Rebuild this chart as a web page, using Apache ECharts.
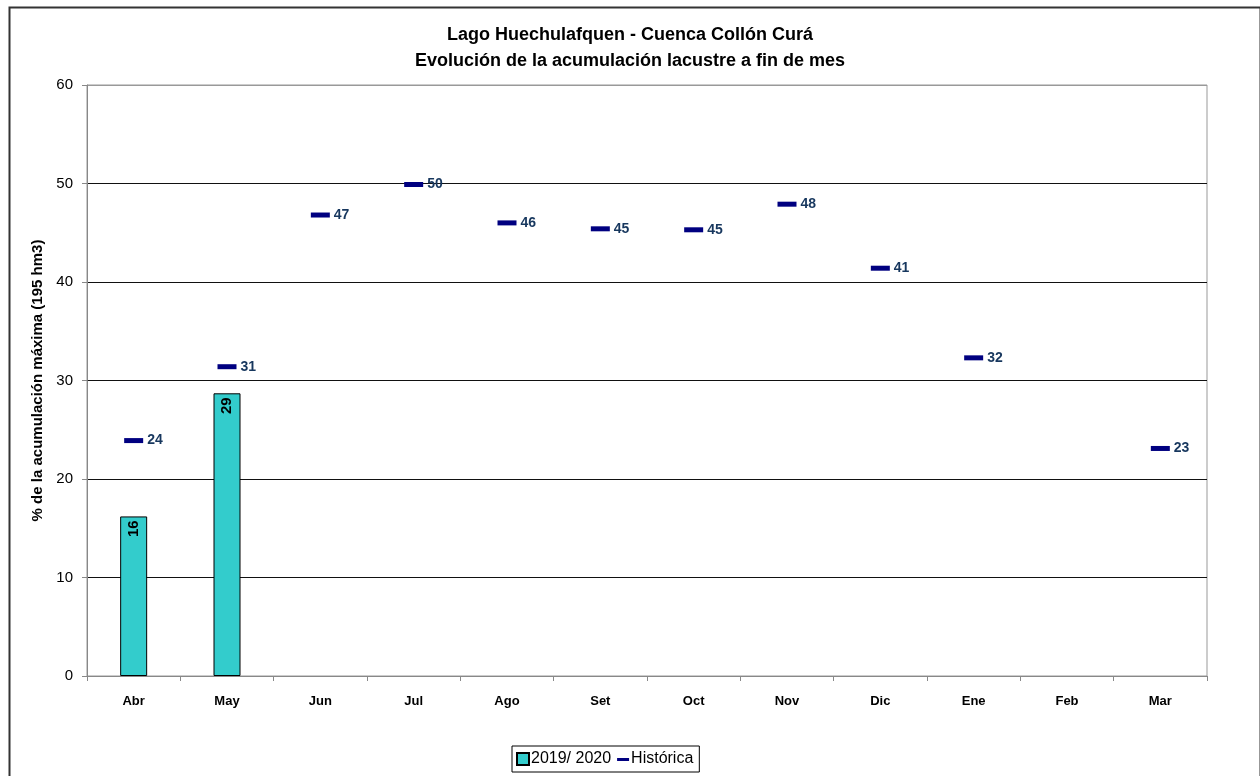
<!DOCTYPE html>
<html>
<head>
<meta charset="utf-8">
<script src="https://cdn.jsdelivr.net/npm/echarts@6/dist/echarts.min.js"></script>
<style>html,body{margin:0;padding:0;background:#fff}#c{width:1260px;height:776px}</style>
</head>
<body>
<div id="c"></div>
<script>
var categories = ['Abr','May','Jun','Jul','Ago','Set','Oct','Nov','Dic','Ene','Feb','Mar'];
var actual = [16.2, 28.7, null, null, null, null, null, null, null, null, null, null];
var historica = [23.9, 31.4, 46.8, 49.9, 46.0, 45.4, 45.3, 47.9, 41.4, 32.3, null, 23.1];
var yTicks = [0, 10, 20, 30, 40, 50, 60];

var chart = echarts.init(document.getElementById('c'), null, {renderer: 'canvas'});
var font = 'Arial, "Liberation Sans", sans-serif';
chart.setOption({
  animation: false,
  backgroundColor: '#fff',
  textStyle: {fontFamily: font},
  graphic: [{
    type: 'rect', left: 7, top: 5, shape: {width: 1251, height: 820},
    style: {fill: 'none', stroke: '#333', lineWidth: 2}, silent: true
  }],
  title: {
    text: 'Lago Huechulafquen - Cuenca Collón Curá\nEvolución de la acumulación lacustre a fin de mes',
    left: 'center', top: 17,
    textStyle: {fontSize: 18, fontWeight: 'bold', color: '#000', lineHeight: 26, fontFamily: font}
  },
  legend: {
    bottom: 4, left: 512,
    borderColor: '#000', borderWidth: 1, padding: [5, 6, 5, 4],
    itemGap: 6, itemWidth: 12, itemHeight: 12,
    textStyle: {fontSize: 16, color: '#000', fontFamily: font, padding: [0, 0, 0, -3]},
    data: [
      {name: '2019/ 2020', icon: 'rect'},
      {name: 'Histórica', icon: 'path://M0,0 M0,5 L12,5 L12,8 L0,8 Z M12,12'}
    ]
  },
  grid: {left: 87, right: 53, top: 85, bottom: 100, show: true, borderColor: '#999', borderWidth: 1},
  xAxis: {
    type: 'category', data: categories, boundaryGap: true,
    axisLine: {show: true, lineStyle: {color: '#888', width: 1}},
    axisTick: {show: true, inside: false, length: 5, alignWithLabel: false, lineStyle: {color: '#888'}},
    axisLabel: {fontSize: 13, fontWeight: 'bold', color: '#000', margin: 19, fontFamily: font},
    splitLine: {show: false}
  },
  yAxis: {
    type: 'value', min: 0, max: 60, interval: 10,
    name: '% de la acumulación máxima (195 hm3)', nameLocation: 'middle', nameGap: 39,
    nameTextStyle: {fontSize: 15, fontWeight: 'bold', color: '#000', fontFamily: font},
    axisLine: {show: true, lineStyle: {color: '#888'}},
    axisTick: {show: true, length: 5, lineStyle: {color: '#888'}},
    axisLabel: {fontSize: 15, color: '#000', margin: 14, fontFamily: font,
      formatter: function (v) { return yTicks.indexOf(v) >= 0 ? String(v) : ''; }},
    splitLine: {show: true, lineStyle: {color: ['#888', '#111', '#111', '#111', '#111', '#111', '#999'], width: 1}}
  },
  series: [
    {
      name: '2019/ 2020', type: 'bar', data: actual, barWidth: 27,
      itemStyle: {color: '#33CCCC', borderColor: '#000', borderWidth: 1},
      label: {
        show: true, position: 'insideTop', rotate: 90, align: 'right', verticalAlign: 'middle',
        distance: 4, fontSize: 15, fontWeight: 'bold', color: '#000', fontFamily: font,
        formatter: function (p) { return Math.round(p.value); }
      }
    },
    {
      name: 'Histórica', type: 'scatter', data: historica, symbol: 'rect', symbolSize: [19, 5],
      itemStyle: {color: '#000080', opacity: 1},
      label: {
        show: true, position: 'right', distance: 4, fontSize: 14, fontWeight: 'bold', color: '#17375E', fontFamily: font,
        formatter: function (p) { return Math.round(p.value); }
      },
      z: 3
    }
  ]
});
</script>
</body>
</html>
